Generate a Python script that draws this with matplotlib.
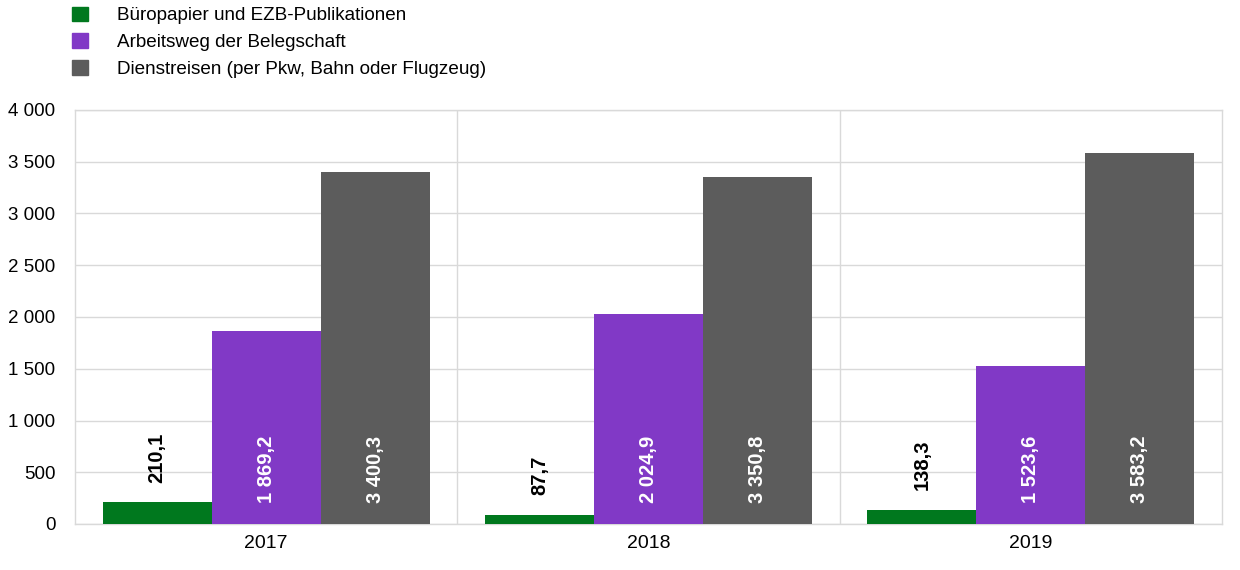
import matplotlib
matplotlib.use("Agg")
import matplotlib.pyplot as plt
import numpy as np
from matplotlib.patches import Patch

plt.rcParams['font.family'] = ['Liberation Sans', 'DejaVu Sans']

years = ["2017", "2018", "2019"]
series_names = ["Büropapier und EZB-Publikationen",
                "Arbeitsweg der Belegschaft",
                "Dienstreisen (per Pkw, Bahn oder Flugzeug)"]
paper = [210.1, 87.7, 138.3]
commute = [1869.2, 2024.9, 1523.6]
travel = [3400.3, 3350.8, 3583.2]
colors = ["#00781E", "#8139C6", "#5C5C5C"]
yticks = [0, 500, 1000, 1500, 2000, 2500, 3000, 3500, 4000]


def fmt(v, dec=0):
    s = f"{v:,.{dec}f}"
    return s.replace(",", " ").replace(".", ",")


fig = plt.figure(figsize=(12.4, 5.7), dpi=100)
ax = fig.add_axes([75/1240, 1-524/570, (1222-75)/1240, (524-110)/570])

x = np.arange(len(years))
w = 0.285
data = [paper, commute, travel]
for i, (vals, c) in enumerate(zip(data, colors)):
    pos = x + (i - 1) * w
    ax.bar(pos, vals, width=w, color=c, zorder=3)
    for p, v in zip(pos, vals):
        if v < 500:
            ax.text(p, v + 190, fmt(v, 1), rotation=90, ha='center', va='bottom',
                    fontsize=14.5, fontweight='bold', color='black', zorder=4)
        else:
            ax.text(p, 205, fmt(v, 1), rotation=90, ha='center', va='bottom',
                    fontsize=14.5, fontweight='bold', color='white', zorder=4)

ax.set_xlim(-0.5, len(years) - 0.5)
ax.set_ylim(0, 4000)
ax.set_yticks(yticks)
ax.set_yticklabels([fmt(t) for t in yticks], fontsize=13.5)
ax.set_xticks(x)
ax.set_xticklabels(years, fontsize=14)
ax.tick_params(length=0, pad=8)
ax.tick_params(axis='y', pad=14)
ax.grid(axis='y', color='#D9D9D9', linewidth=1, zorder=0)
for s in [0.5, 1.5]:
    ax.axvline(s, color='#D9D9D9', linewidth=1, zorder=0)
for sp in ax.spines.values():
    sp.set_color('#D9D9D9')
    sp.set_linewidth(1)

handles = [Patch(color=c) for c in colors]
fig.legend(handles, series_names, loc='upper left', bbox_to_anchor=(63/1240, 1.005),
           frameon=False, fontsize=13.6, handlelength=0.8, handleheight=0.8,
           handletextpad=1.55, labelspacing=0.48, borderaxespad=0.1)

fig.savefig("out.png", dpi=100)
